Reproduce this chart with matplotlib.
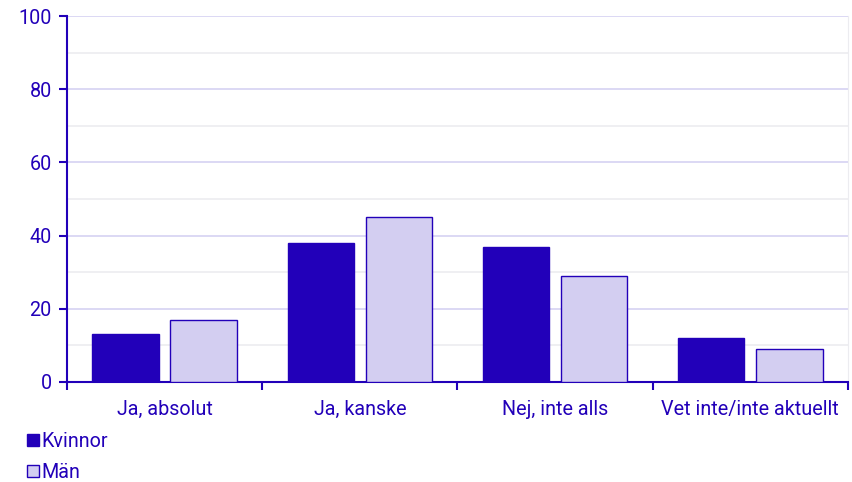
import numpy as np
import matplotlib.pyplot as plt
from matplotlib.patches import Patch
from matplotlib.ticker import MultipleLocator, FixedLocator

# data
categories = ["Ja, absolut", "Ja, kanske", "Nej, inte alls", "Vet inte/inte aktuellt"]
kvinnor = [13, 38, 37, 12]
man = [17, 45, 29, 9]

dark = "#2200b9"
light = "#d3cef1"
grid_major = "#d6d2f2"
grid_minor = "#ececf0"

plt.rcParams['font.family'] = ['Roboto', 'DejaVu Sans']
plt.rcParams['font.size'] = 14.2

fig = plt.figure(figsize=(8.53, 4.82), dpi=100)
ax = fig.add_axes([0.0785, 0.2075, 0.9156, 0.7593])

x = np.arange(len(categories))
w = 0.34
ax.bar(x - 0.2, kvinnor, w, color=dark, edgecolor=dark, linewidth=1, zorder=3)
ax.bar(x + 0.2, man, w, color=light, edgecolor=dark, linewidth=1, zorder=3)

ax.set_xlim(-0.5, len(categories) - 0.5)
ax.set_ylim(0, 100)
ax.yaxis.set_major_locator(MultipleLocator(20))
ax.yaxis.set_minor_locator(MultipleLocator(10))
ax.grid(axis='y', which='major', color=grid_major, linewidth=1.2, zorder=0)
ax.grid(axis='y', which='minor', color=grid_minor, linewidth=1.2, zorder=0)
ax.tick_params(axis='y', which='minor', length=0)

# category labels at centres, tick marks between categories
ax.set_xticks(x)
ax.set_xticklabels(categories)
ax.tick_params(axis='x', which='major', length=0, pad=13, colors=dark)
ax.xaxis.set_minor_locator(FixedLocator(np.arange(-0.5, len(categories), 1)))
ax.tick_params(axis='x', which='minor', length=6, width=1.5, color=dark)
ax.tick_params(axis='y', which='major', length=6, width=1.5, color=dark, labelcolor=dark, pad=5)

ax.spines['top'].set_visible(False)
ax.spines['right'].set_color(grid_minor)
ax.spines['left'].set_color(dark)
ax.spines['bottom'].set_color(dark)
ax.spines['left'].set_linewidth(1.5)
ax.spines['bottom'].set_linewidth(1.5)

handles = [Patch(facecolor=dark, edgecolor=dark, label="Kvinnor"),
           Patch(facecolor=light, edgecolor=dark, label="Män")]
leg = fig.legend(handles=handles, loc='upper left', bbox_to_anchor=(0.032, 0.104),
                 frameon=False, handlelength=0.58, handleheight=0.58,
                 handletextpad=0.12, labelspacing=0.6, borderaxespad=0, borderpad=0)
for t in leg.get_texts():
    t.set_color(dark)

fig.savefig("out.png", dpi=100)
